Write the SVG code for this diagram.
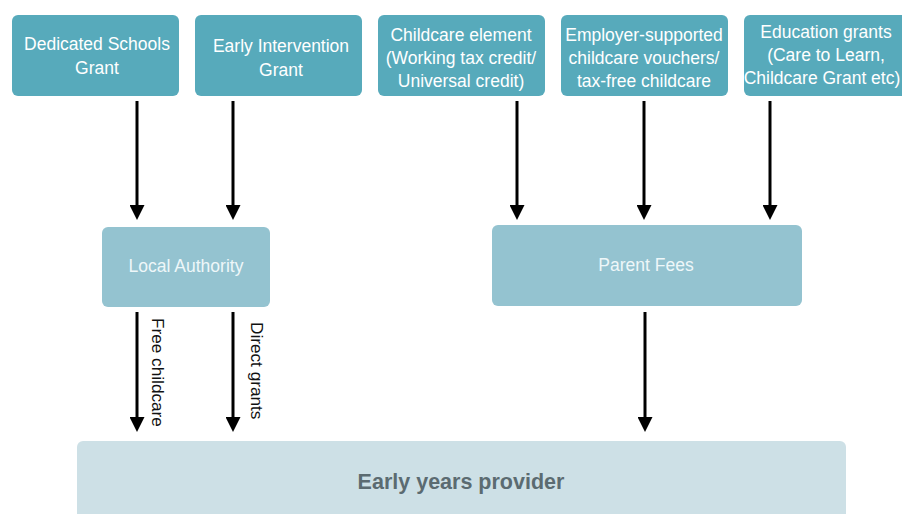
<svg xmlns="http://www.w3.org/2000/svg" width="902" height="514" viewBox="0 0 902 514">
  <style>
    .src rect { fill: #57aabb; }
    .mid rect { fill: #94c3d0; }
    .dst rect { fill: #cde0e6; }
    text { font-family: "Liberation Sans", Arial, sans-serif; text-anchor: middle; }
    .src text { fill: #ffffff; font-size: 17.5px; }
    .mid text { fill: #eef7f9; font-size: 17.5px; }
    .dst text { fill: #5b6b71; font-size: 21.5px; font-weight: bold; }
    .edges line { stroke: #000000; stroke-width: 3; marker-end: url(#head); }
    .edge-label { fill: #111111; font-size: 17.2px; text-anchor: start; }
  </style>
  <defs>
    <marker id="head" viewBox="0 0 10 10" refX="2" refY="5" markerWidth="5" markerHeight="5" orient="auto" markerUnits="strokeWidth">
      <path d="M0,0 L10,5 L0,10 z" fill="#000000"/>
    </marker>
  </defs>
  <rect width="902" height="514" fill="#ffffff"/>

  <!-- funding sources -->
  <g id="dedicated-schools-grant" class="src">
    <rect x="12" y="15" width="167" height="81" rx="6"/>
    <text x="97" y="50">Dedicated Schools</text>
    <text x="97" y="74">Grant</text>
  </g>
  <g id="early-intervention-grant" class="src">
    <rect x="195" y="15" width="167" height="81" rx="6"/>
    <text x="281" y="52">Early Intervention</text>
    <text x="281" y="76">Grant</text>
  </g>
  <g id="childcare-element" class="src">
    <rect x="378" y="15" width="167" height="81" rx="6"/>
    <text x="461" y="41">Childcare element</text>
    <text x="461" y="64">(Working tax credit/</text>
    <text x="461" y="87">Universal credit)</text>
  </g>
  <g id="employer-vouchers" class="src">
    <rect x="561" y="15" width="167" height="81" rx="6"/>
    <text x="644" y="41">Employer-supported</text>
    <text x="644" y="64">childcare vouchers/</text>
    <text x="644" y="87">tax-free childcare</text>
  </g>
  <g id="education-grants" class="src">
    <rect x="744" y="15" width="167" height="81" rx="6"/>
    <text x="826" y="38">Education grants</text>
    <text x="826" y="61">(Care to Learn,</text>
    <text x="822" y="84">Childcare Grant etc)</text>
  </g>

  <!-- intermediaries -->
  <g id="local-authority" class="mid">
    <rect x="102" y="227" width="168" height="80" rx="6"/>
    <text x="186" y="272">Local Authority</text>
  </g>
  <g id="parent-fees" class="mid">
    <rect x="492" y="225" width="310" height="81" rx="6"/>
    <text x="646" y="271">Parent Fees</text>
  </g>

  <!-- recipient -->
  <g id="early-years-provider" class="dst">
    <rect x="77" y="441" width="769" height="90" rx="6"/>
    <text x="461" y="489">Early years provider</text>
  </g>

  <!-- connectors -->
  <g id="connectors" class="edges">
    <line x1="137" y1="101" x2="137" y2="208"/>
    <line x1="233" y1="101" x2="233" y2="208"/>
    <line x1="517" y1="101" x2="517" y2="208"/>
    <line x1="644" y1="101" x2="644" y2="208"/>
    <line x1="770" y1="101" x2="770" y2="208"/>
    <line x1="137" y1="312" x2="137" y2="420"/>
    <line x1="233" y1="312" x2="233" y2="420"/>
    <line x1="645" y1="312" x2="645" y2="420"/>
    <text class="edge-label" transform="translate(152,318) rotate(90)">Free childcare</text>
    <text class="edge-label" transform="translate(251,322) rotate(90)">Direct grants</text>
  </g>
</svg>
